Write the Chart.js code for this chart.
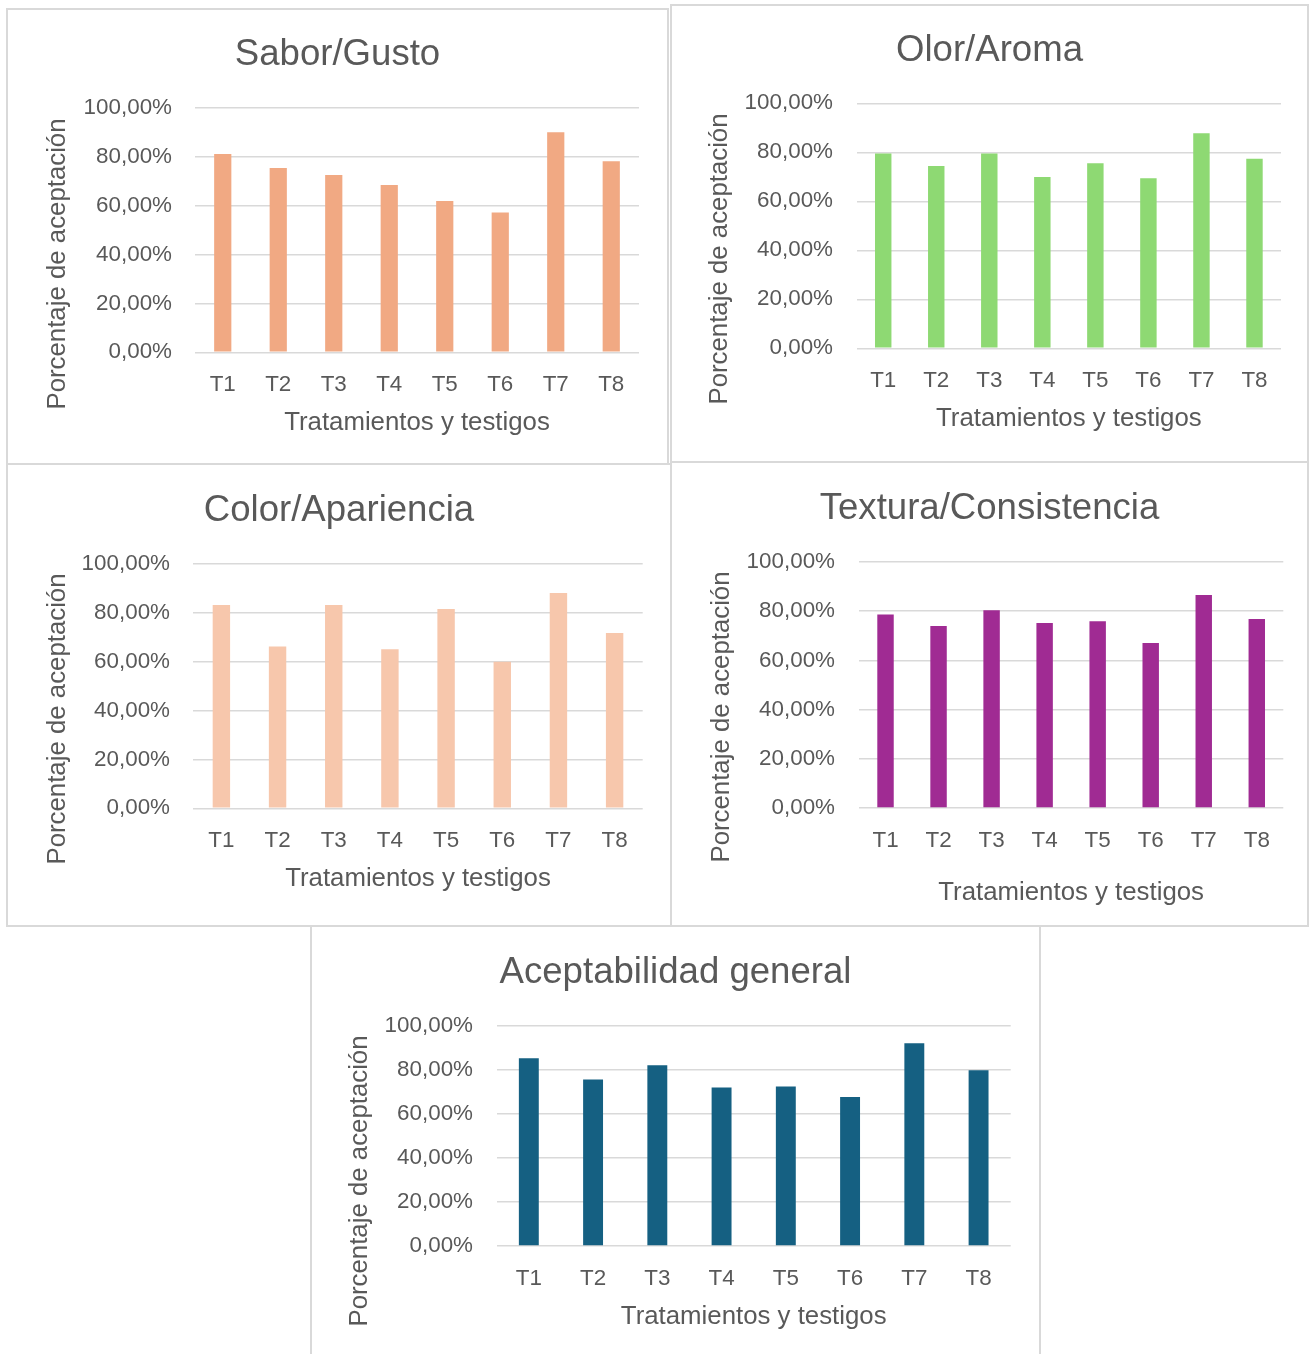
<!DOCTYPE html>
<html>
<head>
<meta charset="utf-8">
<title>Aceptación sensorial por tratamiento</title>
<script src="https://cdn.jsdelivr.net/npm/chart.js@4.4.1/dist/chart.umd.min.js"></script>
<style>
  html, body { margin: 0; padding: 0; background: #ffffff; overflow: hidden; }
  body { width: 1309px; height: 1354px; position: relative; }
  .panel { position: absolute; box-sizing: border-box; border: 2px solid #d9d9d9; background: #ffffff; }
  canvas { position: absolute; }
</style>
</head>
<body>
<script>
// Categories (treatments and controls)
const tratamientos = ['T1', 'T2', 'T3', 'T4', 'T5', 'T6', 'T7', 'T8'];

// Acceptance percentage per attribute
const saborGusto          = [81.1, 75.3, 72.5, 68.4, 61.9, 57.2, 90.0, 78.1];
const olorAroma           = [79.5, 74.4, 79.5, 69.9, 75.5, 69.4, 87.8, 77.4];
const colorApariencia     = [83.2, 66.2, 83.2, 65.1, 81.6, 60.0, 88.1, 71.8];
const texturaConsistencia = [78.7, 74.0, 80.4, 75.2, 75.9, 67.1, 86.6, 76.8];
const aceptabilidadGeneral= [85.2, 75.6, 82.1, 72.0, 72.4, 67.6, 92.0, 79.8];

// Axis texts
const yAxisTitle = 'Porcentaje de aceptación';
const xAxisTitle = 'Tratamientos y testigos';
const yMin = 0, yMax = 100, yStep = 20;

const TEXT = '#595959';
const GRID = '#d9d9d9';
Chart.defaults.font.family = "'Liberation Sans', Arial, sans-serif";

// Rotated y-axis caption drawn at a fixed spot in the panel
const sideTitle = {
  id: 'sideTitle',
  afterDraw(chart, args, opts) {
    const ctx = chart.ctx;
    ctx.save();
    ctx.translate(opts.x, opts.y);
    ctx.rotate(-Math.PI / 2);
    ctx.font = `normal ${opts.size}px ${Chart.defaults.font.family}`;
    ctx.fillStyle = opts.color;
    ctx.textAlign = 'center';
    ctx.textBaseline = 'middle';
    ctx.fillText(opts.text, 0, 0);
    ctx.restore();
  }
};

// Panel frames and layout (page coordinates)
const panels = [
  { title: 'Sabor/Gusto', data: saborGusto, color: '#F1A983',
    box: { x: 6, y: 8, w: 663, h: 457 }, plot: [195, 107.7, 639, 352.3],
    titleY: 52, yTitle: [58, 264], tickR: 172, xTickY: 382, xTitleY: 421 },
  { title: 'Olor/Aroma', data: olorAroma, color: '#8ED973',
    box: { x: 670, y: 4, w: 639, h: 459 }, plot: [856.7, 103.3, 1281, 348.3],
    titleY: 48, yTitle: [720, 259], tickR: 833, xTickY: 378, xTitleY: 417 },
  { title: 'Color/Apariencia', data: colorApariencia, color: '#F7C7AC',
    box: { x: 6, y: 463, w: 666, h: 464 }, plot: [193.3, 564, 642.7, 808.3],
    titleY: 508, yTitle: [58, 719], tickR: 170, xTickY: 838, xTitleY: 877 },
  { title: 'Textura/Consistencia', data: texturaConsistencia, color: '#A02B93',
    box: { x: 670, y: 461, w: 639, h: 466 }, plot: [859, 562, 1283.3, 808],
    titleY: 506, yTitle: [722, 717], tickR: 835, xTickY: 838, xTitleY: 891 },
  { title: 'Aceptabilidad general', data: aceptabilidadGeneral, color: '#156082',
    box: { x: 310, y: 925, w: 731, h: 440 }, plot: [496.7, 1025.7, 1010.7, 1246],
    titleY: 970, yTitle: [360, 1181], tickR: 473, xTickY: 1276, xTitleY: 1315 }
];

const TITLE_SIZE = 36.6, AXIS_SIZE = 25.8, TICK_SIZE = 22.4;

function buildChart(p) {
  const b = p.box;
  const frame = document.createElement('div');
  frame.className = 'panel';
  Object.assign(frame.style, { left: b.x + 'px', top: b.y + 'px', width: b.w + 'px', height: b.h + 'px' });
  document.body.appendChild(frame);

  const cv = document.createElement('canvas');
  cv.width = b.w; cv.height = b.h;
  Object.assign(cv.style, { left: b.x + 'px', top: b.y + 'px', width: b.w + 'px', height: b.h + 'px' });
  document.body.appendChild(cv);

  const plotL = p.plot[0] - b.x, plotT = p.plot[1] - b.y;
  const plotR = p.plot[2] - b.x, plotB = p.plot[3] - b.y;
  const side = b.w - plotR;
  const lhTitle = TITLE_SIZE * 1.2, lhAxis = AXIS_SIZE * 1.2;
  const tPadTop = p.titleY + 3 - b.y - lhTitle / 2;
  const tPadBottom = plotT - tPadTop - lhTitle;

  new Chart(cv, {
    type: 'bar',
    data: {
      labels: tratamientos,
      datasets: [{
        data: p.data,
        backgroundColor: p.color,
        borderWidth: 0,
        barPercentage: 0.31,
        categoryPercentage: 1.0
      }]
    },
    options: {
      responsive: false,
      animation: false,
      devicePixelRatio: 1,
      events: [],
      layout: { autoPadding: false, padding: { left: side, right: side, top: 0, bottom: 0 } },
      plugins: {
        legend: { display: false },
        tooltip: { enabled: false },
        title: {
          display: true, text: p.title, color: TEXT,
          font: { size: TITLE_SIZE, weight: 'normal', lineHeight: 1.2 },
          padding: { top: tPadTop, bottom: tPadBottom }
        },
        sideTitle: {
          text: yAxisTitle, color: TEXT, size: AXIS_SIZE,
          x: p.yTitle[0] - b.x, y: p.yTitle[1] - b.y
        }
      },
      scales: {
        x: {
          grid: { display: false },
          border: { display: false },
          ticks: { color: TEXT, font: { size: TICK_SIZE }, padding: p.xTickY - p.plot[3] - 19, maxRotation: 0 },
          title: {
            display: true, text: xAxisTitle, color: TEXT,
            font: { size: AXIS_SIZE, lineHeight: 1.2 },
            padding: { top: 0, bottom: b.h - (p.xTitleY + 2 - b.y) - lhAxis / 2 }
          },
          afterFit(scale) { scale.height = b.h - plotB; }
        },
        y: {
          min: yMin, max: yMax,
          grid: { color: GRID, lineWidth: 1.5, drawTicks: false },
          border: { display: false },
          ticks: {
            stepSize: yStep, color: TEXT, font: { size: TICK_SIZE },
            padding: p.plot[0] - p.tickR,
            callback: v => v.toFixed(2).replace('.', ',') + '%'
          },
          afterFit(scale) { scale.width = plotL - side; }
        }
      }
    },
    plugins: [sideTitle]
  });
}

panels.forEach(buildChart);
</script>
</body>
</html>
